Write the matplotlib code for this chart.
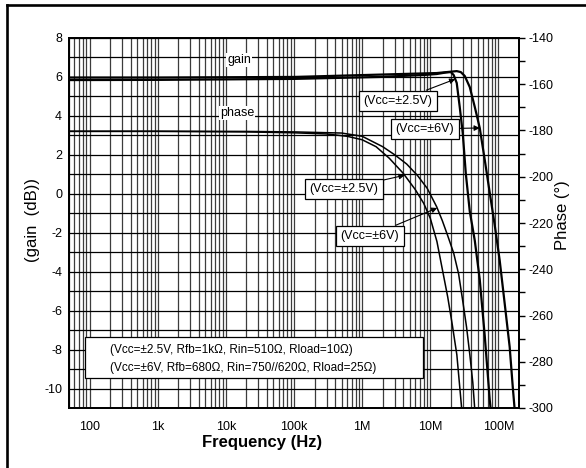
import numpy as np
import matplotlib.pyplot as plt
from matplotlib.lines import Line2D
from matplotlib.patches import Rectangle
from matplotlib.ticker import FixedLocator, NullFormatter

plt.rcParams['font.family'] = ['Liberation Sans', 'DejaVu Sans']
plt.rcParams['axes.unicode_minus'] = False

# --- data ---
# gain, Vcc=+-2.5V
f_gain_25 = [50, 1e3, 1e5, 1.8e6, 8e6, 12.4e6, 17e6, 20e6, 22e6, 24.4e6, 27e6, 29.9e6,
             33.1e6, 37.9e6, 44.9e6, 53.1e6, 62.9e6, 74.5e6, 77e6]
gain_25 = [5.84, 5.85, 5.9, 6.0, 6.1, 6.15, 6.23, 6.25, 6.1, 5.69, 4.46, 3.12,
           1.07, -0.9, -2.4, -4.4, -7.3, -10.6, -11.1]
# gain, Vcc=+-6V
f_gain_6 = [50, 1e3, 1e5, 12.4e6, 20e6, 24.4e6, 28e6, 32e6, 37.9e6, 44.9e6, 53.1e6, 62.9e6,
            74.5e6, 88e6, 104e6, 123e6, 146e6, 162e6, 173e6]
gain_6 = [5.97, 5.97, 6.0, 6.2, 6.27, 6.3, 6.25, 6.05, 5.48, 4.46, 3.38, 1.74,
          0.04, -1.6, -3.4, -5.6, -7.87, -9.92, -11.1]
# phase, Vcc=+-2.5V
f_phase_25 = [50, 1e3, 2e4, 1e5, 3e5, 6e5, 1e6, 1.6e6, 2.5e6, 4e6, 6e6, 8e6,
              10e6, 12.5e6, 15e6, 18e6, 21e6, 24.5e6, 29e6]
phase_25 = [-180.4, -180.4, -180.6, -181.0, -181.5, -182.5, -184.0, -187.0, -192.0, -198.5, -205.5, -211.5,
            -218.0, -228.0, -240.0, -252.0, -264.0, -277.0, -301.0]
# phase, Vcc=+-6V
f_phase_6 = [50, 1e3, 2e4, 1e5, 5e5, 1e6, 2e6, 3e6, 4.5e6, 6.5e6, 9e6, 12.4e6,
             15e6, 18e6, 22e6, 26e6, 30e6, 34e6, 38e6, 42e6, 45e6]
phase_6 = [-180.3, -180.3, -180.4, -180.6, -181.1, -182.5, -187.0, -190.5, -194.5, -199.5, -205.0, -213.0,
           -219.0, -225.5, -233.0, -242.0, -254.0, -265.0, -277.0, -289.0, -301.0]

decade_ticks = [1e2, 1e3, 1e4, 1e5, 1e6, 1e7, 1e8]
decade_labels = ['100', '1k', '10k', '100k', '1M', '10M', '100M']
note_lines = ['(Vcc=\u00b12.5V, Rfb=1k\u03a9, Rin=510\u03a9, Rload=10\u03a9)',
              '(Vcc=\u00b16V, Rfb=680\u03a9, Rin=750//620\u03a9, Rload=25\u03a9)']

W, H = 586, 468


def fx(x):
    return x / W


def fy(y):
    return 1 - y / H


def on_curve(f, fs, vs):
    return np.interp(np.log10(f), np.log10(fs), vs)


fig = plt.figure(figsize=(W / 100, H / 100), dpi=100)

# outer frame (top and left edges visible)
fig.add_artist(Line2D([fx(7), fx(7)], [fy(5), 0], transform=fig.transFigure, color='k', lw=1.9))
fig.add_artist(Line2D([fx(7), 1], [fy(5), fy(5)], transform=fig.transFigure, color='k', lw=1.9))

ax = fig.add_axes([fx(69), fy(408), 450 / W, 370 / H])
ax.set_xscale('log')
ax.set_xlim(50, 2e8)
ax.set_ylim(-11, 8)
ax.set_yticks(np.arange(-10, 9, 2))
ax.set_yticks(np.arange(-11, 9, 1), minor=True)
ax.set_xticks(decade_ticks)
ax.set_xticklabels(decade_labels)
minor = [m * 10 ** e for e in range(1, 9) for m in range(1, 10) if 50 <= m * 10 ** e <= 2e8]
ax.xaxis.set_minor_locator(FixedLocator(minor))
ax.xaxis.set_minor_formatter(NullFormatter())
ax.grid(which='both', axis='x', color='#3c3c3c', lw=0.9)
ax.grid(which='both', axis='y', color='k', lw=0.9)
ax.tick_params(which='both', length=0, labelsize=9)
ax.tick_params(axis='x', pad=9)
ax.tick_params(axis='y', pad=5)

ax.plot(f_gain_25, gain_25, 'k-', lw=1.6)
ax.plot(f_gain_6, gain_6, 'k-', lw=1.6)

ax2 = ax.twinx()
ax2.set_ylim(-300, -140)
ax2.set_yticks(np.arange(-300, -139, 20))
ax2.set_yticks(np.arange(-300, -139, 10), minor=True)
ax2.tick_params(axis='y', which='both', direction='out', length=4, width=1, pad=3, labelsize=9)
ax2.plot(f_phase_25, phase_25, 'k-', lw=1.1)
ax2.plot(f_phase_6, phase_6, 'k-', lw=1.1)
ax2.set_xlim(50, 2e8)

for a in (ax, ax2):
    for s in a.spines.values():
        s.set_linewidth(1.3)

# curve labels
ax2.text(fx(239), fy(60), 'gain', transform=fig.transFigure, fontsize=9, ha='center', va='center',
         bbox=dict(boxstyle='square,pad=0.1', fc='white', ec='none'))
ax2.text(fx(237), fy(113), 'phase', transform=fig.transFigure, fontsize=9, ha='center', va='center',
         bbox=dict(boxstyle='square,pad=0.1', fc='white', ec='none'))

box = dict(boxstyle='square,pad=0.35', fc='white', ec='k', lw=0.9)
arrow = dict(arrowstyle='-|>', color='k', lw=0.8, mutation_scale=8, shrinkA=0, shrinkB=0)

f_a = 23.2e6
ax2.annotate('(Vcc=\u00b12.5V)', xy=(f_a, on_curve(f_a, f_gain_25, gain_25)), xycoords=ax.transData,
             xytext=(fx(398), fy(101)), textcoords='figure fraction', fontsize=9,
             ha='center', va='center', bbox=box, arrowprops=arrow)
f_b = 53.1e6
ax2.annotate('(Vcc=\u00b16V)', xy=(f_b, on_curve(f_b, f_gain_6, gain_6)), xycoords=ax.transData,
             xytext=(fx(425), fy(129)), textcoords='figure fraction', fontsize=9,
             ha='center', va='center', bbox=box, arrowprops=arrow)
f_c = 4.2e6
ax2.annotate('(Vcc=\u00b12.5V)', xy=(f_c, on_curve(f_c, f_phase_25, phase_25)),
             xytext=(fx(344), fy(189)), textcoords='figure fraction', fontsize=9,
             ha='center', va='center', bbox=box, arrowprops=arrow)
f_d = 12.6e6
ax2.annotate('(Vcc=\u00b16V)', xy=(f_d, on_curve(f_d, f_phase_6, phase_6)),
             xytext=(fx(370), fy(236)), textcoords='figure fraction', fontsize=9,
             ha='center', va='center', bbox=box, arrowprops=arrow)

# conditions box
ax2.add_patch(Rectangle((fx(85), fy(378)), (423 - 85) / W, (378 - 337) / H, transform=fig.transFigure,
                        fc='white', ec='k', lw=0.9, clip_on=False, zorder=4))
ax2.text(fx(110), fy(350), note_lines[0], transform=fig.transFigure, fontsize=8.5, va='center', zorder=5)
ax2.text(fx(110), fy(368), note_lines[1], transform=fig.transFigure, fontsize=8.5, va='center', zorder=5)

# axis titles
fig.text(fx(33), fy(220), '(gain  (dB))', rotation=90, fontsize=12, ha='center', va='center')
fig.text(fx(562), fy(215), 'Phase (\u00b0)', rotation=90, fontsize=12, ha='center', va='center')
fig.text(fx(262), fy(443), 'Frequency (Hz)', fontsize=12, fontweight='bold', ha='center', va='center')

fig.savefig('out.png', dpi=100)
